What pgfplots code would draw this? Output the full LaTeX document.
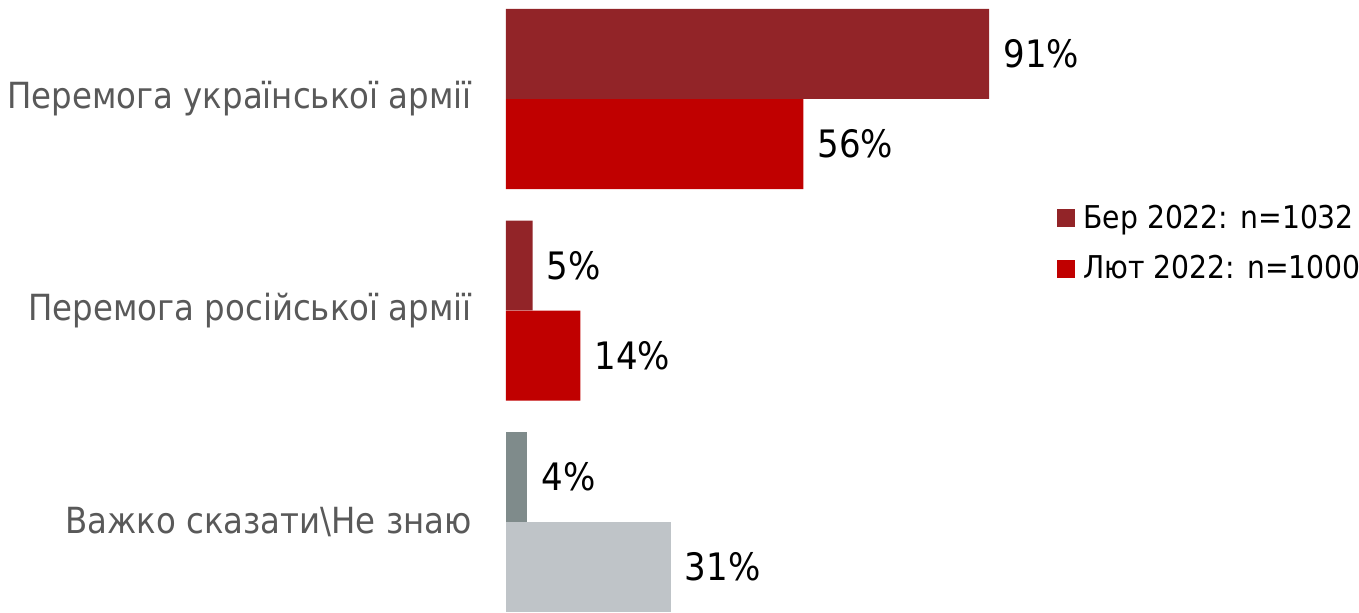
\documentclass[border=0pt]{standalone}
\usepackage{fontspec}
\setmainfont[FakeStretch=0.9]{DejaVu Sans}
\usepackage{pgfplots}
\pgfplotsset{compat=1.18}
\definecolor{berred}{HTML}{922428}
\definecolor{lyutred}{HTML}{C00000}
\definecolor{dkgray}{HTML}{7F8B8B}
\definecolor{ltgray}{HTML}{BFC4C8}
\definecolor{labelgray}{HTML}{595959}
\begin{document}
\begin{tikzpicture}
\path[use as bounding box] (0,0) rectangle (679.5pt,306pt);
\begin{axis}[
  at={(253pt,0pt)}, anchor=south west,
  scale only axis, width=265.4pt, height=301.5pt,
  xbar, xmin=0, xmax=100,
  ymin=-0.4255, ymax=2.4255, y dir=reverse,
  bar width=0.4255,
  clip=false,
  axis line style={draw=none}, tick style={draw=none},
  major tick length=0pt,
  xtick=\empty,
  ytick={0,1,2},
  yticklabels={Перемога української армії, Перемога російської армії, Важко сказати\textbackslash Не знаю},
  yticklabel style={font=\fontsize{18}{22}\selectfont, text=labelgray, inner sep=0pt, xshift=-17pt},
  nodes near coords={\pgfmathprintnumber{\pgfplotspointmeta}\%},
  /pgf/number format/assume math mode=true,
  nodes near coords style={font=\fontsize{18.9}{22}\selectfont, text=black, anchor=west, inner sep=0pt, xshift=7pt},
  point meta=x,
  legend style={at={(rel axis cs:1.038,0.611)}, anchor=west, draw=none, fill=none,
    font=\fontsize{15.7}{19}\selectfont, row sep=8pt, inner sep=0pt,
    /tikz/every odd column/.append style={column sep=2pt}},
  legend cell align=left,
  legend image code/.code={\fill[#1] (0pt,-4.5pt) rectangle (9pt,4.5pt);},
]
\addplot[fill=berred, draw=none, bar shift=-0.2128] coordinates {(91,0) (5,1)};
\addplot[fill=lyutred, draw=none, bar shift=0.2128] coordinates {(56,0) (14,1)};
\addplot[fill=dkgray, draw=none, bar shift=-0.2128, forget plot] coordinates {(4,2)};
\addplot[fill=ltgray, draw=none, bar shift=0.2128, forget plot] coordinates {(31,2)};
\legend{Бер 2022: n=1032, Лют 2022: n=1000}
\end{axis}
\end{tikzpicture}
\end{document}
